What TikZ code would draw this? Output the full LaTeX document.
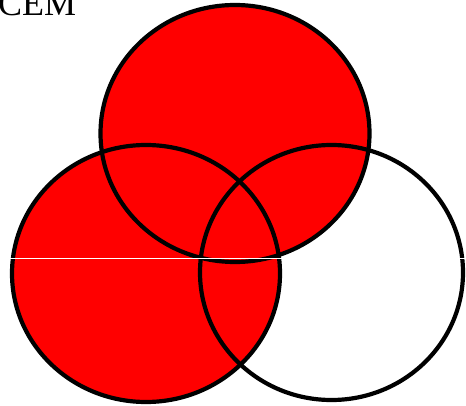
\documentclass[tikz,border=0pt]{standalone}
\usepackage{fontspec}
\setmainfont{Liberation Serif}
\definecolor{vennred}{RGB}{255,0,0}
\begin{document}
\begin{tikzpicture}[x=1pt,y=1pt,
  outline/.style={draw=black,line width=4.2pt},
  redfill/.style={fill=vennred}]
\useasboundingbox (0,0) rectangle (466,-406);
\fill[white] (0,0) rectangle (466,-406);
% red regions (union of top and left sets)
\path[redfill] (235,-133.5) ellipse [x radius=134.5, y radius=128.5];
\path[redfill] (146,-273.5) ellipse [x radius=134, y radius=128.5];
% outlines
\draw[outline] (235,-133.5) ellipse [x radius=134.5, y radius=128.5];
\draw[outline] (146,-273.5) ellipse [x radius=134, y radius=128.5];
\draw[outline] (331.5,-272.5) ellipse [x radius=131.5, y radius=127.5];
% scan artefact line
\draw[white,line width=0.8pt] (0,-258.5) -- (466,-258.5);
\node[anchor=base west,inner sep=0pt,font=\fontsize{36}{36}\selectfont] (title) at (-2,-16) {CEM};
\end{tikzpicture}
\end{document}
